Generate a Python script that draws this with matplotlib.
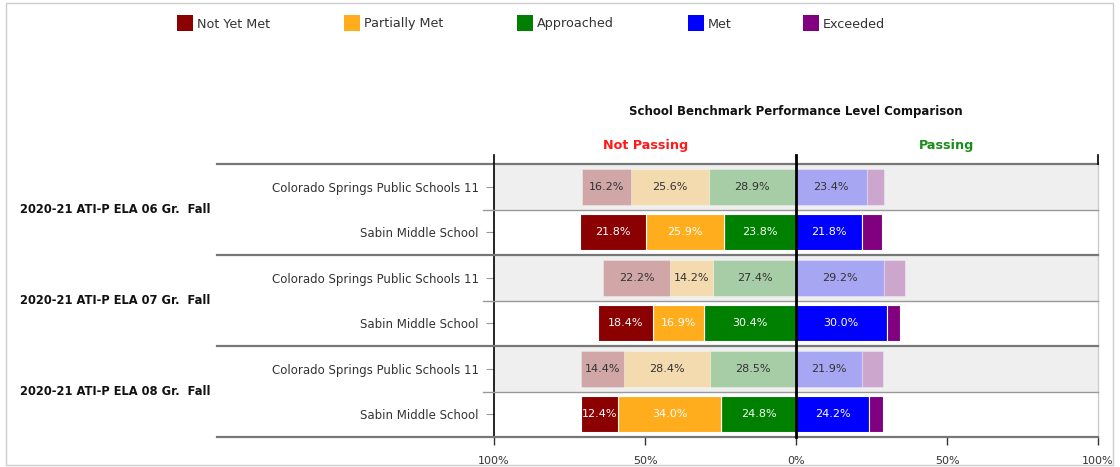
import matplotlib
matplotlib.use("Agg")
import matplotlib.pyplot as plt
from matplotlib.patches import Rectangle
from matplotlib.transforms import blended_transform_factory

# ---------------- data ----------------
groups = ["2020-21 ATI-P ELA 06 Gr.  Fall",
          "2020-21 ATI-P ELA 07 Gr.  Fall",
          "2020-21 ATI-P ELA 08 Gr.  Fall"]
rows = ["Colorado Springs Public Schools 11", "Sabin Middle School"] * 3
levels = ["Not Yet Met", "Partially Met", "Approached", "Met", "Exceeded"]
colors = ["#8b0000", "#ffad1d", "#008000", "#0000ff", "#800080"]

not_yet_met = [16.2, 21.8, 22.2, 18.4, 14.4, 12.4]
partially_met = [25.6, 25.9, 14.2, 16.9, 28.4, 34.0]
approached = [28.9, 23.8, 27.4, 30.4, 28.5, 24.8]
met = [23.4, 21.8, 29.2, 30.0, 21.9, 24.2]
exceeded = [5.9, 6.7, 7.0, 4.3, 6.8, 4.6]
is_district = [True, False, True, False, True, False]

xticks = [-100, -50, 0, 50, 100]
xticklabels = ["100%", "50%", "0%", "50%", "100%"]

# ---------------- figure ----------------
W, H = 1120, 467
fig = plt.figure(figsize=(W / 100, H / 100), dpi=100)
plt.rcParams['font.family'] = ['DejaVu Sans']

def fx(px):
    return px / W

def fy(py):
    return 1 - py / H

# outer border
fig.add_artist(Rectangle((fx(6), fy(465)), fx(1113) - fx(6), fy(3) - fy(465),
                         transform=fig.transFigure, fill=False,
                         edgecolor="#cccccc", linewidth=1))

ax = fig.add_axes([fx(494), fy(437), fx(1098) - fx(494), fy(164) - fy(437)])
ax.set_xlim(-100, 100)
ax.set_ylim(len(rows) - 0.5, -0.5)

# background bands for district rows
for i, d in enumerate(is_district):
    if d:
        ax.axhspan(i - 0.5, i + 0.5, color="#efefef", zorder=0, linewidth=0)

bar_h = 0.79
for i in range(len(rows)):
    alpha = 0.3 if is_district[i] else 1.0
    tcolor = "#333333" if is_district[i] else "white"
    left_vals = [approached[i], partially_met[i], not_yet_met[i]]
    left_cols = [colors[2], colors[1], colors[0]]
    start = 0.0
    for v, c in zip(left_vals, left_cols):
        ax.barh(i, -v, left=start, height=bar_h, color=c, alpha=alpha,
                edgecolor="white", linewidth=0.8, zorder=2)
        ax.text(start - v / 2, i, f"{v:.1f}%", ha="center", va="center",
                fontsize=8, color=tcolor, zorder=4)
        start -= v
    right_vals = [met[i], exceeded[i]]
    right_cols = [colors[3], colors[4]]
    start = 0.0
    for k, (v, c) in enumerate(zip(right_vals, right_cols)):
        ax.barh(i, v, left=start, height=bar_h, color=c, alpha=alpha,
                edgecolor="white", linewidth=0.8, zorder=2)
        if k == 0:
            ax.text(start + v / 2, i, f"{v:.1f}%", ha="center", va="center",
                    fontsize=8, color=tcolor, zorder=4)
        start += v

# center line
ax.plot([0, 0], [-0.5 - 9 / 45.5, 5.5], color="black", linewidth=2,
        clip_on=False, zorder=5)

# row separator lines
trans = blended_transform_factory(ax.transAxes, ax.transData)
x_left_long = (217 - 494) / 604
x_left_short = (483 - 494) / 604
for b in range(len(rows) + 1):
    y = b - 0.5
    if b % 2 == 0:
        ax.plot([x_left_long, 1], [y, y], transform=trans, color="#777777",
                linewidth=1.6, clip_on=False, zorder=3)
    else:
        ax.plot([x_left_short, 1], [y, y], transform=trans, color="#999999",
                linewidth=1.0, clip_on=False, zorder=3)

# spines
for s in ["top", "bottom"]:
    ax.spines[s].set_visible(False)
ax.spines["left"].set_color("black")
ax.spines["left"].set_linewidth(1.2)
ax.spines["right"].set_color("#cccccc")
ax.spines["right"].set_linewidth(1.0)

# top ticks at -100 and 100
for xv in [-100, 100]:
    ax.plot([xv, xv], [-0.5 - 9 / 45.5, -0.5], color="black", linewidth=1.2,
            clip_on=False, zorder=5)

# x ticks
ax.set_xticks(xticks)
ax.set_xticklabels(xticklabels, fontsize=8, color="#333333")
ax.tick_params(axis="x", length=6, width=1, color="#333333", pad=8)

# y ticks
ax.set_yticks(range(len(rows)))
ax.set_yticklabels(rows, fontsize=8.5, color="#333333")
ax.tick_params(axis="y", length=6, width=0.8, color="#999999", pad=5)

# group labels
for g, name in enumerate(groups):
    yc = 2 * g + 0.5
    ax.text((20 - 494) / 604, yc, name, transform=trans,
            ha="left", va="center", fontsize=8.3, fontweight="bold",
            color="#111111")

# titles
fig.text(fx(796), fy(112), "School Benchmark Performance Level Comparison",
         ha="center", va="center", fontsize=8.5, fontweight="bold", color="#111111")
fig.text(fx(645.5), fy(145), "Not Passing", ha="center", va="center",
         fontsize=9.2, fontweight="bold", color="#ff1a1a")
fig.text(fx(947), fy(145), "Passing", ha="center", va="center",
         fontsize=9.2, fontweight="bold", color="#1a8c1a")

# legend
leg_x = [177, 344, 517, 688, 803]
for xp, lab, c in zip(leg_x, levels, colors):
    fig.add_artist(Rectangle((fx(xp), fy(31)), fx(16), 16 / H,
                             transform=fig.transFigure, facecolor=c,
                             edgecolor="none"))
    fig.text(fx(xp + 20), fy(24), lab, ha="left", va="center", fontsize=9.2,
             color="#333333")

fig.savefig("out.png", dpi=100)
